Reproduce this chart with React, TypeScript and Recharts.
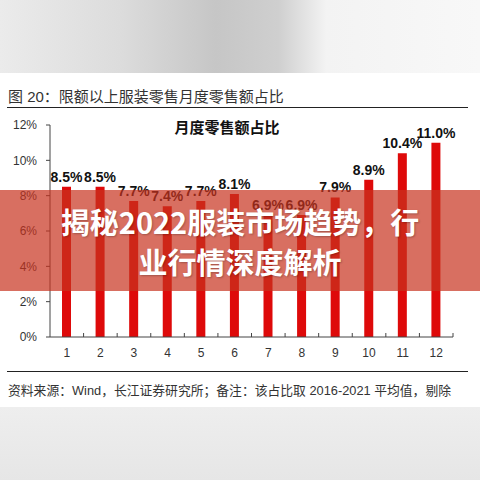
import { Bar, BarChart, LabelList, XAxis, YAxis } from "recharts";

// monthly share of annual apparel retail sales (2016-2021 average)
const months = ["1", "2", "3", "4", "5", "6", "7", "8", "9", "10", "11", "12"];
const shares = [8.5, 8.5, 7.7, 7.4, 7.7, 8.1, 6.9, 6.9, 7.9, 8.9, 10.4, 11.0];
const yTicks = [0, 2, 4, 6, 8, 10, 12];

const FIG_TITLE = "图 20：限额以上服装零售月度零售额占比";
const CHART_TITLE = "月度零售额占比";
const SOURCE = "资料来源：Wind，长江证券研究所；备注：该占比取 2016-2021 平均值，剔除";
const BANNER = ["揭秘2022服装市场趋势，行", "业行情深度解析"];

const FONT = "'Liberation Sans', Arial, 'Noto Sans CJK SC', sans-serif";
const BAR_RED = "#de0a0a";
const AXIS = "#444";

const data = months.map((m, i) => ({ month: m, share: shares[i] }));

function MonthTick(props: any) {
  const { x, y, payload } = props;
  const half = payload.offset ?? 16.8;
  return (
    <g>
      <text x={x} y={y + 20} textAnchor="middle" fontSize={12} fill="#333">
        {payload.value}
      </text>
      <line x1={x + half} x2={x + half} y1={y} y2={y - 4} stroke={AXIS} />
    </g>
  );
}

export default function App() {
  return (
    <div
      style={{
        position: "absolute",
        top: 0,
        left: 0,
        width: 480,
        height: 480,
        background: "#fff",
        fontFamily: FONT,
        overflow: "hidden",
      }}
    >
      {/* blurred page around the figure */}
      <div
        style={{
          position: "absolute",
          top: 0,
          left: 0,
          width: 480,
          height: 73,
          background:
            "linear-gradient(90deg, #ebebeb 0%, #dcdcdc 25%, #c6c6c6 45%, #cfcfcf 58%, #f3f3f3 68%, #f8f8f8 100%)",
        }}
      />
      <div
        style={{
          position: "absolute",
          top: 407,
          left: 0,
          width: 480,
          height: 73,
          background: "linear-gradient(180deg, #eeeeee 0%, #e6e6e6 100%)",
        }}
      />

      <div
        style={{
          position: "absolute",
          top: 87,
          left: 8,
          fontSize: 15,
          color: "#333",
          whiteSpace: "nowrap",
          lineHeight: "20px",
        }}
      >
        {FIG_TITLE}
      </div>
      <div style={{ position: "absolute", top: 107, left: 7, width: 461, height: 1, background: "#222" }} />

      <BarChart
        width={480}
        height={480}
        data={data}
        margin={{ top: 125, right: 27, bottom: 113, left: 0 }}
        style={{ position: "absolute", top: 0, left: 0 }}
      >
        <YAxis
          width={50}
          domain={[0, 12]}
          ticks={yTicks}
          tickFormatter={(v) => `${v}%`}
          tick={{ fontSize: 12, fill: "#333" }}
          tickSize={4}
          tickMargin={9}
          axisLine={{ stroke: AXIS }}
          tickLine={{ stroke: AXIS }}
        />
        <XAxis
          dataKey="month"
          height={30}
          interval={0}
          tickSize={0}
          tickMargin={0}
          tickLine={false}
          axisLine={{ stroke: AXIS }}
          tick={<MonthTick />}
        />
        <Bar dataKey="share" fill={BAR_RED} barSize={9} isAnimationActive={false}>
          <LabelList
            dataKey="share"
            position="top"
            offset={5}
            formatter={(v: any) => `${Number(v).toFixed(1)}%`}
            style={{ fontSize: 14, fontWeight: 700, fill: "#111" }}
          />
        </Bar>
      </BarChart>

      <div
        style={{
          position: "absolute",
          top: 118,
          left: 0,
          width: 454,
          textAlign: "center",
          fontSize: 15,
          fontWeight: 700,
          color: "#111",
          lineHeight: "20px",
        }}
      >
        {CHART_TITLE}
      </div>

      <div style={{ position: "absolute", top: 371, left: 7, width: 461, height: 1, background: "#222" }} />
      <div
        style={{
          position: "absolute",
          top: 382,
          left: 8,
          fontSize: 12.8,
          color: "#333",
          whiteSpace: "nowrap",
          lineHeight: "18px",
        }}
      >
        {SOURCE}
      </div>

      {/* headline banner laid over the figure */}
      <div
        style={{
          position: "absolute",
          top: 190,
          left: 0,
          width: 480,
          height: 101,
          background: "rgba(200, 50, 30, 0.7)",
          color: "#fff",
          fontFamily: "'Noto Sans CJK SC', sans-serif",
          fontWeight: 700,
          fontSize: 29,
          lineHeight: "40px",
          textAlign: "center",
          textShadow: "1px 1px 2px rgba(0,0,0,0.25)",
          paddingTop: 11,
          boxSizing: "border-box",
        }}
      >
        {BANNER.map((line) => (
          <div key={line} style={{ whiteSpace: "nowrap" }}>
            {line}
          </div>
        ))}
      </div>
    </div>
  );
}
